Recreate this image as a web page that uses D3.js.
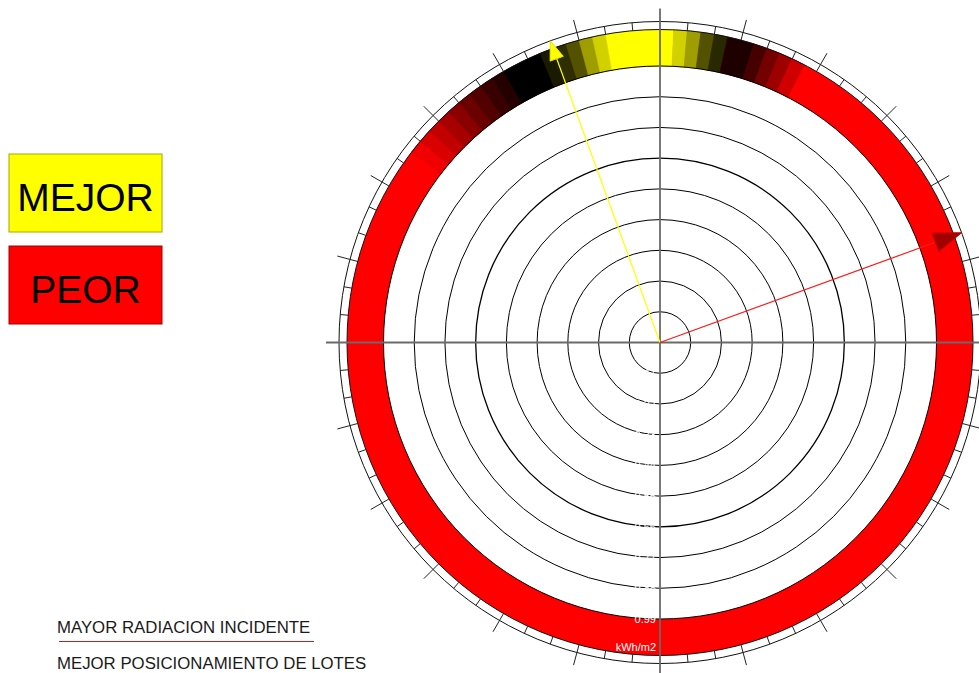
<!DOCTYPE html>
<html>
<head>
<meta charset="utf-8">
<script src="https://cdn.jsdelivr.net/npm/d3@7"></script>
<style>
  body { margin: 0; background: #fff; }
  svg { display: block; font-family: "Liberation Sans", Arial, sans-serif; }
</style>
</head>
<body>
<div id="chart"></div>
<script>
/* Data */
// Ring values (kWh/m2), labelled in white along the south axis
const ringValues = [0.11, 0.22, 0.33, 0.44, 0.55, 0.66, 0.77, 0.88, 0.99];
const unitLabel = "kWh/m2";

// Band segments: azimuth start / end in degrees (clockwise from north)
// and relative radiation (0 = worst / red, 0.5 = black, 1 = best / yellow)
const segStart = [-52.5, -50, -47.5, -45, -42.5, -40, -37.5, -35, -32.5, -30, -22.5, -20, -17.5, -15, -12.5, -10, 2.5, 5, 7.5, 10, 12.5, 17.5, 20, 22.5, 25];
const segEnd   = [-50, -47.5, -45, -42.5, -40, -37.5, -35, -32.5, -30, -22.5, -20, -17.5, -15, -12.5, -10, 2.5, 5, 7.5, 10, 12.5, 17.5, 20, 22.5, 25, 27.5];
const segValue = [0.03, 0.07, 0.12, 0.17, 0.23, 0.29, 0.34, 0.39, 0.43, 0.5, 0.55, 0.59, 0.66, 0.81, 0.91, 1, 0.91, 0.81, 0.66, 0.58, 0.44, 0.36, 0.27, 0.19, 0.09];
const baseValue = 0; // rest of the band

// Arrows: best and worst orientation (azimuth, degrees)
const arrowNames = ["MEJOR", "PEOR"];
const arrowAzimuth = [-20, 70];

// Legend
const legendLabels = ["MEJOR", "PEOR"];
const legendValues = [1, 0];

// Notes
const notes = ["MAYOR RADIACION INCIDENTE", "MEJOR POSICIONAMIENTO DE LOTES"];

/* Canvas */
const width = 979, height = 673;
const cx = 660, cy = 342.5;
const bandInner = 276.5, bandOuter = 313, tickOuter = 321, majorOuter = 334;

const svg = d3.select("#chart")
    .append("svg")
    .attr("width", width)
    .attr("height", height);

/* Scales */
const rScale = d3.scaleLinear()
    .domain([0, d3.max(ringValues)])
    .range([0, bandInner]);

const aScale = d3.scaleLinear()
    .domain([0, 360])
    .range([0, 2 * Math.PI]);

const color = d3.scaleLinear()
    .domain([0, 0.5, 1])
    .range(["#ff0000", "#000000", "#ffff00"]);

// polar -> cartesian (azimuth clockwise from north)
const px = (deg, r) => r * Math.sin(aScale(deg));
const py = (deg, r) => -r * Math.cos(aScale(deg));

const g = svg.append("g")
    .attr("transform", `translate(${cx},${cy})`);

/* Radiation band */
const arc = d3.arc()
    .innerRadius(bandInner)
    .outerRadius(bandOuter);

g.append("path")
    .attr("d", arc({ startAngle: 0, endAngle: 2 * Math.PI }))
    .attr("fill", color(baseValue));

const segments = segStart.map((s, i) => ({ s: s, e: segEnd[i], v: segValue[i] }));

g.selectAll(".seg")
    .data(segments)
    .join("path")
    .attr("class", "seg")
    .attr("d", d => arc({ startAngle: aScale(d.s), endAngle: aScale(d.e) }))
    .attr("fill", d => color(d.v))
    .attr("stroke", d => color(d.v))
    .attr("stroke-width", 0.6);

/* Rings */
g.selectAll(".ring")
    .data(ringValues)
    .join("circle")
    .attr("class", "ring")
    .attr("r", d => rScale(d))
    .attr("fill", "none")
    .attr("stroke", "#000")
    .attr("stroke-width", d => d === 0.66 ? 1.3 : 1);

g.selectAll(".outer")
    .data([bandOuter, tickOuter])
    .join("circle")
    .attr("class", "outer")
    .attr("r", d => d)
    .attr("fill", "none")
    .attr("stroke", "#111")
    .attr("stroke-width", 1);

/* Ticks: minor every 5 deg, major every 15 deg */
const tickAngles = d3.range(0, 360, 5).filter(a => a % 90 !== 0);

g.selectAll(".tick")
    .data(tickAngles)
    .join("line")
    .attr("class", "tick")
    .attr("x1", d => px(d, bandOuter))
    .attr("y1", d => py(d, bandOuter))
    .attr("x2", d => px(d, d % 15 === 0 ? majorOuter : tickOuter))
    .attr("y2", d => py(d, d % 15 === 0 ? majorOuter : tickOuter))
    .attr("stroke", "#222")
    .attr("stroke-width", 1);

/* Axes */
g.selectAll(".axis")
    .data([0, 90])
    .join("line")
    .attr("class", "axis")
    .attr("x1", d => px(d, majorOuter))
    .attr("y1", d => py(d, majorOuter))
    .attr("x2", d => px(d + 180, majorOuter))
    .attr("y2", d => py(d + 180, majorOuter))
    .attr("stroke", "#6a6a6a")
    .attr("stroke-width", 1.8);

/* Ring labels (white) */
g.selectAll(".rlabel")
    .data(ringValues)
    .join("text")
    .attr("class", "rlabel")
    .attr("x", -4)
    .attr("y", d => rScale(d) + 4)
    .attr("text-anchor", "end")
    .attr("font-size", "11px")
    .attr("fill", "#fff")
    .text(d => d3.format(".2f")(d));

g.append("text")
    .attr("x", -4)
    .attr("y", 308)
    .attr("text-anchor", "end")
    .attr("font-size", "11px")
    .attr("fill", "#fff")
    .text(unitLabel);

/* Arrows */
const arrowStyle = {
    "MEJOR": { line: "#ffff00", head: "#ffff00", edge: "#e6e600", len: 19, half: 7 },
    "PEOR": { line: "#ff1a1a", head: "#a00000", edge: "#d00000", len: 28, half: 10 }
};

arrowNames.forEach((name, i) => {
    const az = arrowAzimuth[i];
    const st = arrowStyle[name];
    const tipX = px(az, tickOuter), tipY = py(az, tickOuter);
    const baseR = tickOuter - st.len;
    const bx = px(az, baseR), by = py(az, baseR);
    // perpendicular offset
    const nx = Math.cos(aScale(az)) * st.half, ny = Math.sin(aScale(az)) * st.half;

    g.append("line")
        .attr("x1", 0).attr("y1", 0)
        .attr("x2", bx).attr("y2", by)
        .attr("stroke", st.line)
        .attr("stroke-width", 1.2);

    g.append("path")
        .attr("d", `M${tipX},${tipY}L${bx + nx},${by + ny}L${bx - nx},${by - ny}Z`)
        .attr("fill", st.head)
        .attr("stroke", st.edge)
        .attr("stroke-width", 1);
});

/* Legend */
const legend = svg.append("g")
    .attr("transform", "translate(9,154)");

legend.selectAll("rect")
    .data(legendValues)
    .join("rect")
    .attr("x", 0)
    .attr("y", (d, i) => i * 92)
    .attr("width", 153)
    .attr("height", 78)
    .attr("fill", d => color(d))
    .attr("stroke", d => d3.color(color(d)).darker(1.2))
    .attr("stroke-width", 1);

legend.selectAll("text")
    .data(legendLabels)
    .join("text")
    .attr("x", 76.5)
    .attr("y", (d, i) => i * 92 + 57)
    .attr("text-anchor", "middle")
    .attr("font-size", "39px")
    .attr("fill", "#000")
    .text(d => d);

/* Notes */
svg.append("text")
    .attr("x", 57)
    .attr("y", 633)
    .attr("font-size", "16.8px")
    .attr("fill", "#1a1a1a")
    .text(notes[0]);

svg.append("line")
    .attr("x1", 59).attr("x2", 314)
    .attr("y1", 641.5).attr("y2", 641.5)
    .attr("stroke", "#c02020")
    .attr("stroke-width", 1.2);

svg.append("text")
    .attr("x", 57)
    .attr("y", 668.5)
    .attr("font-size", "16.8px")
    .attr("fill", "#1a1a1a")
    .text(notes[1]);
</script>
</body>
</html>
